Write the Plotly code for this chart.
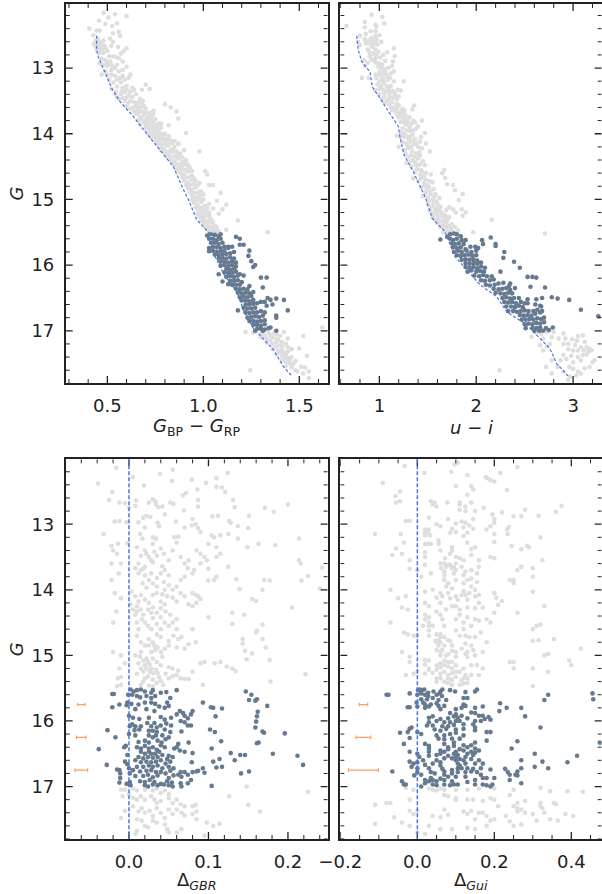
import math
import plotly.graph_objects as go

top_left_gray = [(.48,12.16),(.54,12.18),(.60,12.21),(.505,12.23),(.457,12.28),(.55,12.32),(.49,12.33),(.525,12.36),(.406,12.40),(.444,12.43),(.46,12.43),(.56,12.45),(.53,12.47),(.566,12.51),(.427,12.50),(.514,12.55),(.53,12.60),(.44,12.58),(.45,12.55),(.43,12.63),(.445,12.62),(.46,12.60),(.47,12.62),(.48,12.58),(.455,12.66),(.47,12.68),(.485,12.66),(.46,12.71),(.475,12.73),(.49,12.70),(.445,12.72),(.48,12.77),(.46,12.77),(.52,12.66),(.555,12.68),(.60,12.70),(.585,12.74),(.57,12.78),(.545,12.83),(.56,12.85),(.53,12.82),(.47,12.86),(.49,12.88),(.515,12.9),(.46,12.93),(.48,12.95),(.50,12.97),(.53,12.98),(.55,12.95),(.58,12.90),(.60,12.98),(.52,13.03),(.49,13.05),(.47,13.1),(.56,13.05),(.58,13.03),(.62,13.1),(.61,13.15),(.59,13.18),(.565,13.15),(.54,13.12),(.51,13.17),(.53,13.22),(.57,13.22),(.60,13.27),(.63,13.3),(.64,13.33),(.70,13.25),(.72,13.32),(.68,13.33),(.52,13.32),(.545,13.36),(.57,13.4),(.59,13.37),(.61,13.42),(.63,13.44),(.65,13.4),(.67,13.47),(.685,13.5),(.56,13.47),(.59,13.5),(.61,13.53),(.65,13.57),(.63,13.6),(.66,13.63),(.68,13.66),(.70,13.62),(.72,13.68),(.74,13.65),(.65,13.7),(.67,13.74),(.69,13.72),(.71,13.76),(.73,13.74),(.75,13.78),(.66,13.8),(.69,13.82),(.71,13.85),(.73,13.83),(.75,13.86),(.77,13.84),(.70,13.92),(.72,13.95),(.74,13.93),(.76,13.95),(.78,13.91),(.72,14.02),(.74,14.0),(.76,14.04),(.78,14.02),(.80,14.0),(.82,14.04),(.75,14.1),(.77,14.12),(.79,14.09),(.81,14.13),(.83,14.1),(.77,14.2),(.79,14.22),(.81,14.18),(.83,14.24),(.85,14.2),(.87,14.16),(.80,14.3),(.82,14.32),(.84,14.28),(.86,14.33),(.88,14.3),(.83,14.4),(.85,14.42),(.87,14.38),(.89,14.43),(.91,14.4),(.85,14.48),(.87,14.52),(.89,14.5),(.91,14.47),(.93,14.52),(.88,14.6),(.90,14.62),(.92,14.58),(.94,14.64),(.90,14.72),(.92,14.74),(.94,14.7),(.96,14.72),(.98,14.75),(.92,14.83),(.94,14.85),(.96,14.82),(.98,14.88),(.94,14.94),(.96,14.97),(.98,14.95),(1.0,14.92),(.95,15.05),(.97,15.08),(.99,15.04),(1.01,15.1),(1.03,15.07),(.97,15.15),(.99,15.18),(1.01,15.16),(1.03,15.2),(1.05,15.14),(.98,15.26),(1.0,15.28),(1.02,15.25),(1.04,15.3),(1.0,15.36),(1.02,15.38),(1.04,15.35),(1.06,15.4),(1.02,15.45),(1.04,15.47),(1.06,15.46),(1.08,15.48),
(.68,13.54),(.74,13.7),(.80,13.55),(.83,13.6),(.86,13.66),(.78,13.85),(.82,13.87),(.87,13.77),(.91,13.99),(.85,14.11),(.87,14.15),(.90,14.25),(.98,14.27),(1.01,14.57),(1.02,14.62),(1.03,14.78),(1.05,14.78),(1.09,14.9),(1.07,15.02),(1.12,15.08),(1.10,15.15),(1.08,15.22),(1.12,15.46),(1.18,15.32),(1.335,15.5),(1.62,16.95),(1.52,17.08),(1.50,17.27),(1.54,17.38),(1.245,17.6),
(1.22,17.02),(1.26,17.03),(1.3,17.05),(1.34,17.03),(1.38,17.05),(1.42,17.02),(1.30,17.1),(1.33,17.12),(1.36,17.1),(1.39,17.14),(1.44,17.12),(1.33,17.18),(1.36,17.2),(1.38,17.18),(1.40,17.22),(1.43,17.2),(1.36,17.28),(1.39,17.3),(1.41,17.28),(1.44,17.32),(1.38,17.36),(1.41,17.38),(1.43,17.36),(1.46,17.4),(1.41,17.45),(1.43,17.47),(1.45,17.44),(1.48,17.46),(1.43,17.54),(1.46,17.56),(1.48,17.6),(1.51,17.55),(1.49,17.62),(1.53,17.56),(1.52,17.65),(1.55,17.62),(1.55,17.72),
(.55,13.45),(.58,13.46),(.6,13.45),(.62,13.5),(.64,13.52),(.66,13.53),(.6,13.58),(.62,13.62),(.64,13.6),(.67,13.6),(.69,13.58),(.64,13.66),(.66,13.68),(.7,13.68),(.72,13.72),(.68,13.78),(.7,13.8),(.72,13.79),(.74,13.8),(.67,13.86),(.7,13.88),(.72,13.9),(.74,13.88),(.76,13.9),(.71,13.98),(.73,14.0),(.75,13.98),(.77,13.98),(.79,14.0),(.73,14.06),(.75,14.05),(.77,14.07),(.79,14.06),(.81,14.08),(.76,14.15),(.78,14.16),(.8,14.15),(.82,14.17),(.84,14.14),(.78,14.25),(.8,14.26),(.82,14.28),(.84,14.25),(.86,14.27),(.81,14.35),(.83,14.36),(.85,14.35),(.87,14.34),(.89,14.36),(.84,14.45),(.86,14.46),(.88,14.46),(.9,14.45),(.92,14.47),(.86,14.55),(.88,14.56),(.9,14.55),(.92,14.54),(.94,14.57),(.89,14.66),(.91,14.67),(.93,14.66),(.95,14.68),(.91,14.78),(.93,14.78),(.95,14.77),(.97,14.79),(.93,14.89),(.95,14.9),(.97,14.9),(.99,14.88),(.94,15.0),(.96,15.02),(.98,15.0),(1.0,15.0),(.96,15.12),(.98,15.12),(1.0,15.12),(1.02,15.13),(.97,15.22),(.99,15.23),(1.01,15.22),(1.03,15.24),(.99,15.32),(1.01,15.33),(1.03,15.32),(1.05,15.34),(1.01,15.42),(1.03,15.42),(1.05,15.42),(1.07,15.43),(1.03,15.5),(1.05,15.5),(1.07,15.5),
(.44,12.67),(.45,12.69),(.465,12.65),(.475,12.7),(.5,12.74),(.51,12.82),(.5,12.92),(.52,12.95),(.54,13.0),(.5,13.1),(.52,13.1),(.55,13.18),(.58,13.12),(.55,13.28),(.58,13.3),(.6,13.33),(.62,13.36),(.54,13.4),(.575,13.35),
(1.31,17.02),(1.32,17.07),(1.35,17.07),(1.37,17.03),(1.4,17.08),(1.35,17.15),(1.38,17.12),(1.41,17.17),(1.38,17.24),(1.41,17.24),(1.44,17.25),(1.4,17.33),(1.42,17.33),(1.46,17.28),(1.42,17.42),(1.44,17.41),(1.47,17.5),(1.45,17.5)]

top_left_dark = [(1.02,15.55),(1.04,15.53),(1.06,15.54),(1.08,15.56),(1.09,15.53),(1.03,15.6),(1.05,15.6),(1.07,15.62),(1.09,15.6),(1.04,15.66),(1.06,15.66),(1.08,15.68),(1.1,15.66),(1.03,15.74),(1.05,15.72),(1.07,15.73),(1.09,15.74),(1.11,15.72),(1.03,15.79),(1.05,15.78),(1.07,15.8),(1.09,15.79),(1.11,15.78),(1.13,15.74),(1.06,15.84),(1.08,15.85),(1.1,15.84),(1.12,15.83),(1.14,15.82),(1.16,15.8),(1.08,15.9),(1.1,15.89),(1.12,15.9),(1.14,15.88),(1.16,15.9),(1.09,15.95),(1.11,15.95),(1.13,15.96),(1.15,15.94),(1.17,15.96),(1.09,16.01),(1.11,16.0),(1.13,16.02),(1.15,16.0),(1.17,16.02),(1.12,16.06),(1.14,16.07),(1.16,16.06),(1.08,16.14),(1.11,16.11),(1.13,16.12),(1.15,16.12),(1.17,16.1),(1.12,16.18),(1.14,16.17),(1.16,16.18),(1.18,16.16),(1.14,16.24),(1.16,16.24),(1.18,16.23),(1.2,16.26),(1.1,16.25),(1.13,16.29),(1.15,16.3),(1.17,16.3),(1.19,16.3),(1.17,16.36),(1.19,16.37),(1.21,16.36),(1.23,16.37),(1.18,16.42),(1.2,16.43),(1.22,16.42),(1.24,16.43),(1.26,16.41),(1.19,16.49),(1.21,16.48),(1.23,16.49),(1.25,16.47),(1.2,16.54),(1.22,16.54),(1.24,16.55),(1.26,16.53),(1.22,16.6),(1.24,16.6),(1.26,16.59),(1.28,16.58),(1.3,16.56),(1.18,16.69),(1.21,16.65),(1.23,16.66),(1.25,16.66),(1.27,16.65),(1.22,16.72),(1.24,16.73),(1.26,16.72),(1.28,16.72),(1.3,16.7),(1.32,16.72),(1.23,16.8),(1.25,16.79),(1.27,16.78),(1.29,16.79),(1.31,16.77),(1.24,16.85),(1.26,16.85),(1.28,16.86),(1.3,16.85),(1.32,16.84),(1.26,16.91),(1.28,16.91),(1.3,16.92),(1.32,16.9),(1.28,16.97),(1.3,16.97),(1.32,16.98),(1.34,16.96),(1.31,17.0),(1.27,17.0),
(1.17,15.57),(1.19,15.6),(1.19,15.69),(1.21,15.69),(1.24,15.78),(1.235,15.86),(1.25,15.94),(1.27,16.0),(1.26,16.03),(1.3,16.19),(1.33,16.19),(1.31,16.34),(1.19,16.14),(1.21,16.16),(1.24,16.32),(1.335,16.5),(1.35,16.53),(1.38,16.51),(1.42,16.53),(1.44,16.69),(1.33,16.62),(1.32,16.56),(1.36,16.6),(1.38,16.77),(1.38,16.8),(1.38,17.0),(1.13,15.72),(1.15,15.72),(1.35,16.95)]

top_right_gray = [(.92,12.19),(1.03,12.22),(.85,12.3),(1.05,12.32),(.97,12.37),(.96,12.34),(.66,12.36),(.85,12.38),(.91,12.44),(.96,12.44),(.8,12.51),(.86,12.48),(.96,12.51),(1.0,12.5),(.85,12.56),(.92,12.54),(.94,12.58),(.97,12.57),(.78,12.6),(.8,12.65),(.86,12.62),(.9,12.62),(.94,12.64),(1.02,12.6),(1.15,12.7),(.93,12.68),(.96,12.72),(.99,12.75),(1.08,12.76),(1.16,12.82),(.9,12.82),(.96,12.85),(1.01,12.84),(1.04,12.8),(.84,12.88),(.88,12.92),(.97,12.92),(1.06,12.89),(1.14,12.9),(1.13,12.97),(.85,12.97),(.99,12.98),(1.02,13.0),(1.05,13.02),(1.09,13.0),(1.0,13.06),(1.07,13.1),(.96,13.1),(1.12,13.08),(1.15,13.05),(.82,13.15),(.89,13.15),(.97,13.15),(1.03,13.14),(1.09,13.18),(1.15,13.2),(1.25,13.2),(.98,13.25),(1.02,13.27),(1.05,13.23),(1.08,13.28),(1.12,13.27),(1.19,13.33),(1.22,13.34),(1.1,13.3),(1.14,13.35),(.96,13.34),(1.0,13.4),(1.05,13.38),(1.1,13.41),(1.14,13.45),(1.2,13.43),(1.03,13.47),(1.08,13.5),(1.13,13.52),(1.18,13.48),(1.1,13.55),(1.15,13.6),(1.2,13.57),(1.24,13.62),(1.36,13.57),(1.34,13.63),(1.17,13.67),(1.21,13.7),(1.24,13.68),(1.27,13.72),(1.2,13.75),(1.25,13.77),(1.29,13.8),(1.33,13.85),(1.37,13.83),(1.44,13.8),(1.4,13.89),(1.47,13.99),(1.43,14.05),(1.27,13.86),(1.31,13.9),(1.35,13.95),(1.18,14.03),(1.22,14.05),(1.25,14.0),(1.28,14.03),(1.31,14.05),(1.34,14.02),(1.37,14.08),(1.24,14.13),(1.28,14.15),(1.32,14.12),(1.36,14.16),(1.4,14.2),(1.44,14.22),(1.48,14.15),(1.52,14.27),(1.2,14.2),(1.26,14.25),(1.3,14.22),(1.34,14.27),(1.38,14.3),(1.42,14.33),(1.3,14.35),(1.35,14.4),(1.4,14.38),(1.45,14.42),(1.28,14.45),(1.33,14.5),(1.38,14.48),(1.43,14.55),(1.37,14.58),(1.42,14.62),(1.46,14.65),(1.53,14.62),(1.67,14.55),(1.65,14.6),(1.68,14.67),(1.35,14.68),(1.4,14.72),(1.46,14.75),(1.5,14.78),(1.55,14.74),(1.7,14.77),(1.76,14.78),(1.43,14.82),(1.49,14.85),(1.53,14.88),(1.58,14.92),(1.78,14.86),(1.45,14.95),(1.5,14.97),(1.55,15.0),(1.59,15.03),(1.62,14.98),(1.86,14.92),(1.82,15.01),(1.5,15.07),(1.55,15.1),(1.59,15.13),(1.63,15.11),(1.72,15.12),(1.76,15.15),(1.52,15.17),(1.57,15.2),(1.61,15.18),(1.65,15.22),(1.69,15.16),(1.85,15.15),(1.89,15.2),(1.86,15.25),(1.55,15.27),(1.6,15.29),(1.64,15.26),(1.68,15.3),(1.72,15.27),(1.79,15.2),(1.6,15.36),(1.65,15.39),(1.69,15.36),(1.72,15.4),(1.75,15.38),(2.16,15.31),(1.97,15.5),(2.71,15.52),(1.67,15.43),(1.7,15.47),(1.74,15.45),(1.78,15.42),(1.81,15.47),
(2.62,17.03),(2.67,17.05),(2.73,17.02),(2.8,17.02),(2.9,17.04),(3.05,17.08),(3.1,17.07),(2.57,17.09),(2.69,17.12),(2.78,17.1),(2.85,17.12),(2.92,17.12),(2.99,17.13),(3.04,17.15),(3.12,17.17),(2.66,17.22),(2.73,17.24),(2.76,17.2),(2.9,17.2),(2.95,17.2),(3.02,17.22),(3.08,17.25),(3.14,17.25),(3.17,17.28),(2.69,17.3),(2.95,17.28),(3.0,17.3),(3.05,17.3),(3.11,17.3),(3.16,17.32),(3.19,17.3),(2.9,17.37),(2.98,17.38),(3.05,17.4),(3.1,17.37),(3.14,17.36),(2.78,17.45),(2.87,17.45),(2.93,17.43),(3.0,17.48),(3.08,17.45),(3.22,17.45),(2.72,17.55),(2.84,17.55),(2.96,17.55),(3.0,17.58),(3.12,17.57),(3.17,17.55),(3.2,17.48),(2.24,17.6),(2.78,17.65),(2.9,17.62),(3.05,17.62),(3.08,17.65),(2.97,17.7),(3.03,17.68),(2.95,17.75),
(.86,12.58),(.88,12.62),(.9,12.57),(.92,12.66),(.95,12.6),(.98,12.64),(.88,12.72),(.9,12.76),(.94,12.78),(.97,12.8),(.92,12.87),(.95,12.9),(1.0,12.93),(1.03,12.95),(1.0,13.1),(1.03,13.08),(1.06,13.06),(1.0,13.2),(1.04,13.18),(1.08,13.13),(1.11,13.15),(1.0,13.32),(1.04,13.33),(1.08,13.35),(1.12,13.36),(1.16,13.38),(1.05,13.44),(1.1,13.47),(1.16,13.42),(1.05,13.53),(1.12,13.6),(1.18,13.55),(1.13,13.64),(1.18,13.62),(1.22,13.66),(1.26,13.65),(1.19,13.72),(1.23,13.74),(1.27,13.78),(1.31,13.75),(1.22,13.82),(1.26,13.83),(1.3,13.85),(1.35,13.8),(1.24,13.92),(1.28,13.95),(1.32,13.96),(1.38,13.92),(1.22,13.98),(1.26,14.05),(1.3,14.08),(1.35,14.1),(1.29,14.18),(1.33,14.2),(1.38,14.15),(1.42,14.12),(1.27,14.3),(1.33,14.33),(1.37,14.35),(1.41,14.28),(1.32,14.42),(1.37,14.44),(1.42,14.47),(1.47,14.48),(1.39,14.54),(1.44,14.58),(1.48,14.6),(1.43,14.68),(1.48,14.7),(1.52,14.72),(1.46,14.8),(1.51,14.82),(1.56,14.84),(1.48,14.9),(1.53,14.92),(1.57,14.96),(1.51,15.02),(1.56,15.05),(1.6,15.07),(1.53,15.13),(1.58,15.15),(1.62,15.15),(1.55,15.22),(1.6,15.24),(1.64,15.2),(1.68,15.24),(1.58,15.32),(1.62,15.33),(1.66,15.33),(1.7,15.32),(1.63,15.42),(1.68,15.42),(1.72,15.44),(1.66,15.5),(1.72,15.5),(1.76,15.5)]

top_right_dark = [(1.73,15.53),(1.77,15.52),(1.8,15.53),(1.84,15.56),(1.63,15.61),(1.7,15.57),(1.73,15.6),(1.76,15.62),(1.8,15.6),(1.85,15.62),(1.89,15.62),(1.75,15.67),(1.78,15.68),(1.82,15.67),(1.87,15.68),(1.76,15.73),(1.8,15.74),(1.84,15.73),(1.89,15.76),(1.94,15.72),(1.99,15.72),(1.77,15.8),(1.81,15.78),(1.85,15.8),(1.9,15.78),(1.95,15.8),(2.0,15.78),(2.02,15.74),(1.8,15.85),(1.84,15.86),(1.88,15.85),(1.92,15.84),(1.96,15.86),(2.0,15.85),(1.85,15.92),(1.89,15.91),(1.93,15.92),(1.97,15.91),(2.01,15.93),(1.89,15.97),(1.93,15.98),(1.97,15.97),(2.01,15.98),(2.05,15.96),(1.89,16.03),(1.93,16.04),(1.97,16.03),(2.01,16.05),(2.05,16.02),(2.09,16.04),(1.91,16.1),(1.95,16.08),(2.0,16.1),(2.04,16.09),(2.08,16.1),(1.98,16.16),(2.03,16.17),(2.07,16.15),(2.11,16.17),(2.16,16.17),(2.05,16.23),(2.09,16.24),(2.14,16.23),(2.18,16.22),(2.1,16.3),(2.14,16.31),(2.19,16.3),(2.23,16.28),(2.28,16.27),(2.35,16.28),(2.18,16.36),(2.23,16.37),(2.27,16.36),(2.31,16.35),(2.35,16.38),(2.4,16.35),(2.2,16.42),(2.25,16.43),(2.29,16.44),(2.33,16.42),(2.37,16.43),(2.27,16.5),(2.31,16.49),(2.35,16.51),(2.39,16.5),(2.44,16.5),(2.29,16.56),(2.33,16.57),(2.37,16.56),(2.41,16.58),(2.46,16.56),(2.5,16.58),(2.31,16.63),(2.36,16.63),(2.4,16.64),(2.44,16.62),(2.48,16.64),(2.33,16.7),(2.38,16.7),(2.42,16.71),(2.46,16.7),(2.5,16.69),(2.54,16.7),(2.59,16.7),(2.63,16.68),(2.45,16.76),(2.49,16.77),(2.53,16.76),(2.57,16.77),(2.61,16.74),(2.66,16.72),(2.47,16.83),(2.51,16.83),(2.55,16.82),(2.59,16.83),(2.63,16.81),(2.67,16.82),(2.7,16.8),(2.5,16.9),(2.54,16.89),(2.58,16.9),(2.62,16.88),(2.66,16.89),(2.7,16.87),(2.51,16.96),(2.58,16.96),(2.62,16.96),(2.66,16.95),(2.72,16.96),(2.6,17.0),(2.65,17.0),(2.69,17.0),(2.75,16.99),(2.79,16.95),
(2.06,15.62),(2.07,15.68),(2.15,15.58),(2.2,15.68),(2.2,15.71),(2.29,15.8),(2.28,15.89),(2.39,15.95),(2.45,16.04),(2.53,16.18),(2.58,16.18),(2.62,16.19),(2.56,16.33),(2.71,16.34),(2.25,16.1),(2.34,16.32),(2.53,16.52),(2.53,16.58),(2.62,16.52),(2.68,16.5),(2.66,16.62),(2.61,16.6),(2.78,16.49),(2.84,16.51),(2.96,16.53),(3.08,16.68),(3.26,16.78),(2.67,16.63),(2.68,16.7)]

bot_left_gray = [(-.016,12.14),(-.039,12.38),(-.021,12.51),(-.025,12.63),(-.032,13.15),(.005,12.28),(.019,12.41),(.039,12.23),(.055,12.17),(.054,12.34),(.079,12.32),(.097,12.37),(.11,12.3),(.124,12.22),(.11,12.43),(.117,12.44),(.121,12.51),(.086,12.47),(.072,12.52),(.068,12.56),(.087,12.63),(.087,12.73),(.131,12.63),(.133,12.74),(.171,12.75),(.182,12.81),(.2,12.7),(.151,12.87),(-.012,12.67),(-.005,12.68),(.0,12.75),(.009,12.64),(.008,12.72),(.025,12.67),(.03,12.62),(.033,12.65),(.034,12.7),(.037,12.74),(.042,12.73),(.052,12.67),(.056,12.69),(.069,12.79),(.045,12.85),(.018,12.9),(.022,12.87),(.027,12.89),(.012,12.97),(.02,13.05),(.036,12.98),(.038,13.03),(.059,12.96),(.08,12.92),(.079,13.02),(.084,13.0),(.087,13.06),(.09,13.12),(.07,13.05),(.105,12.88),(.112,12.87),(.126,12.95),(.137,13.03),(.128,12.98),(.15,13.06),(.115,13.17),(.125,13.15),(.107,13.2),(.104,13.17),(.057,13.2),(.062,13.19),(.014,13.15),(.017,13.22),(.03,13.2),(.034,13.22),(-.018,12.96),(-.012,12.95),(-.003,12.97),(-.022,13.33),(-.014,13.3),(-.002,13.29),(.137,13.22),(.149,13.35),(.163,13.3),(.184,13.32),(.214,13.22),(.214,13.55),(.216,13.6),(.217,13.86),(.225,13.79),(.243,13.66),(.24,13.98),(.17,13.85),(.168,14.0),(.177,13.86),(.135,13.84),(.139,13.99),(.125,13.65),(.107,13.85),(.1,13.86),(.11,13.8),(.082,13.7),(.074,13.67),(.08,13.75),(.07,13.8),(.065,13.85),(.05,13.78),(.042,13.64),(.045,13.7),(.02,13.4),(.022,13.45),(.025,13.5),(.028,13.55),(.04,13.37),(.044,13.45),(.055,13.4),(.05,13.55),(.032,13.42),(.085,13.4),(.09,13.45),(.095,13.5),(.098,13.55),(.1,13.3),(.11,13.35),(.11,13.5),(.115,13.45),(.012,13.6),(.008,13.67),(.015,13.7),(.02,13.65),(.012,13.75),(.02,13.78),(.025,13.85),(.017,13.9),(.022,13.97),(.028,13.75),(.035,13.82),(.044,13.88),(.05,13.93),(.055,14.0),(-.013,13.75),(-.022,13.6),(-.02,13.4),(-.015,13.45),(-.01,13.6),(-.022,13.85),(-.018,14.05),(-.01,14.13),(.003,14.03),(.008,14.1),(.012,14.18),(.02,14.15),(.03,14.08),(.035,14.05),(.042,14.07),(.048,14.1),(.055,14.12),(.06,14.18),(.08,14.05),(.084,14.08),(.087,14.1),(.09,14.14),(.085,14.2),(.08,14.25),(.075,14.22),(-.016,14.33),(-.02,14.5),(.002,14.22),(.005,14.3),(.01,14.33),(.015,14.3),(.018,14.38),(.024,14.3),(.028,14.35),(.03,14.43),(.016,14.45),(.02,14.5),(.024,14.55),(.028,14.6),(.04,14.28),(.046,14.33),(.052,14.38),(.045,14.5),(.05,14.55),(.055,14.5),(.06,14.45),(.06,14.6),(.08,14.6),(.056,14.7),(.05,14.78),(.062,14.75),(.066,14.72),(.075,14.83),(.084,14.8),(.1,14.42),(.13,14.35),(.145,14.38),(.13,14.52),(.143,14.75),(.143,14.82),(.146,14.93),(.148,15.06),(.155,14.97),(.16,14.65),(.161,14.62),(.168,14.53),(.168,14.75),(.172,14.88),(.177,15.07),(.178,15.4),(.205,14.27),(.16,14.17),(.155,14.14),(.222,15.29),(.095,15.1),(.108,15.12),(.123,15.17),(.13,15.2),(.134,15.24),(.09,15.12),(.093,15.45),(.115,15.1),
(.02,14.85),(.025,14.85),(.03,14.8),(.032,14.85),(.034,14.87),(.033,14.92),(.036,14.88),(.028,14.95),(.04,14.95),(.015,14.95),(.008,15.0),(.014,15.02),(.018,15.08),(.022,15.05),(.024,15.1),(.026,15.14),(.02,15.15),(.015,15.2),(.018,15.25),(.022,15.2),(.026,15.25),(.028,15.2),(.03,15.27),(.034,15.22),(.036,15.27),(.038,15.33),(.024,15.32),(.02,15.35),(.018,15.4),(.03,15.37),(.04,15.39),(.043,15.45),(.05,15.18),(.055,15.2),(.062,15.23),(.05,15.35),(.055,15.32),(.06,15.3),(.065,15.35),(.07,15.36),(.075,15.36),(.08,15.25),(-.01,15.33),(-.014,15.35),(-.01,15.45),(-.015,15.47),(-.02,14.95),(-.01,15.0),(-.005,15.12),(-.012,15.2),
(-.01,17.05),(-.005,17.05),(.005,17.03),(.01,17.06),(.02,17.05),(.03,17.06),(.035,17.03),(.04,17.1),(.045,17.06),(.05,17.12),(-.008,17.15),(.0,17.12),(.005,17.17),(.01,17.2),(.015,17.15),(.02,17.2),(.028,17.15),(.032,17.2),(.035,17.25),(.04,17.22),(.05,17.18),(.055,17.25),(.06,17.2),(.065,17.27),(.07,17.3),(.08,17.3),(.084,17.28),(.005,17.3),(.012,17.38),(.016,17.33),(.02,17.4),(.026,17.37),(.03,17.45),(.035,17.33),(.04,17.4),(.045,17.48),(.05,17.35),(.055,17.42),(.06,17.35),(.066,17.4),(.07,17.44),(.08,17.42),(.085,17.38),(-.005,17.37),(-.01,17.48),(.01,17.5),(.016,17.52),(.02,17.6),(.024,17.62),(.03,17.52),(.035,17.55),(.045,17.58),(.048,17.65),(.05,17.7),(.06,17.7),(.066,17.65),(.085,17.5),(.098,17.55),(.106,17.6),(.114,17.57),(.095,17.75),(.01,17.68),(.008,17.72),(.148,17.0),(.15,17.28),(.165,17.38),(.225,17.08),(.126,17.15),
(.018,13.68),(.03,13.58),(.035,13.48),(.06,13.28),(.065,13.5),(.07,13.6),(.075,13.55),(.09,13.6),(.1,13.68),(.01,13.35),(.03,13.3),(.015,13.48),(.03,13.9),(.035,13.95),(.04,13.75),(.045,14.0),(.06,13.95),(.065,14.05),(.07,14.1),(.04,14.18),(.045,14.22),(.015,14.08),(.025,14.2),(.03,14.27),(.035,14.35),(.04,14.42),(.01,14.25),(.008,14.38),(.01,14.5),(.012,14.6),(.035,14.52),(.04,14.6),(.035,14.68),(.04,14.72),(.025,14.75),(.01,14.7),(.015,14.8),(.045,14.9),(.05,14.85),(.06,14.88),(.07,14.9),(.042,15.02),(.03,15.05),(.035,15.1),(.04,15.15),(.012,15.12),(.01,15.28),(.046,15.28),(.015,15.45),(.03,15.47),(.035,15.42),(.025,15.46)]

bot_left_dark = [(.147,15.55),(.154,15.6),(.151,15.68),(.161,15.67),(.159,15.69),(.174,15.77),(.162,15.86),(.161,15.93),(.16,16.01),(.159,16.1),(.168,16.16),(.17,16.18),(.196,16.19),(.163,16.33),(.161,16.34),(.181,16.5),(.212,16.53),(.219,16.67),(.146,16.52),(.14,16.52),(.128,16.49),(.133,16.6),(.141,16.8),(.151,16.77),(.116,16.31),(.108,16.17),(.102,16.13),(.104,16.42),(.117,15.81),(.106,15.8),(.103,15.79),(.093,15.72),(.109,15.93),(.106,16.62),(.114,16.58),(.11,16.71),(.117,16.7),(.104,16.99),(.093,16.72),(.095,16.79),(.087,16.76),
(-.021,15.59),(-.019,15.59),(-.012,15.75),(-.021,15.79),(-.027,16.14),(-.017,16.25),(-.038,16.43),(-.028,16.67),(-.015,16.74),(-.012,16.75),(-.011,16.8),(-.011,16.87),(-.012,16.94),(-.001,15.6),(-.002,15.72),(-.003,15.76),(.0,15.92),(.001,16.08),(.0,16.2),(-.004,16.38),(-.006,16.4),(-.002,16.52),(-.005,16.62),(-.002,16.66),(.0,16.72),(.001,16.8),(.001,16.93),(-.003,16.96),(.002,16.98),
(.002,15.52),(.006,15.55),(.01,15.53),(.015,15.52),(.02,15.55),(.028,15.57),(.03,15.53),(.04,15.57),(.047,15.56),(.06,15.53),(.004,15.6),(.01,15.62),(.014,15.64),(.022,15.62),(.028,15.65),(.033,15.62),(.052,15.65),(.048,15.72),(.003,15.74),(.012,15.75),(.02,15.72),(.028,15.72),(.033,15.74),(.038,15.78),(.045,15.8),(.05,15.77),(.008,15.82),(.022,15.82),(.032,15.85),(.064,15.85),(.068,15.88),(.08,15.85),(.06,15.9),(.07,15.92),(.074,15.96),(.078,15.9),(.005,15.95),(.013,15.97),(.025,15.95),(.04,15.94),(.045,15.98),(.053,15.95),(.065,16.0),(.07,16.02),(.074,16.07),(.078,16.07),(.004,16.05),(.008,16.08),(.015,16.08),(.023,16.03),(.028,16.08),(.032,16.03),(.035,16.1),(.04,16.07),(.047,16.04),(.053,16.07),(.007,16.14),(.013,16.13),(.025,16.15),(.03,16.15),(.035,16.17),(.045,16.13),(.052,16.17),(.066,16.16),(.008,16.22),(.025,16.22),(.03,16.25),(.034,16.22),(.042,16.22),(.05,16.25),(.012,16.32),(.02,16.3),(.025,16.33),(.036,16.3),(.041,16.33),(.046,16.28),(.062,16.35),(.075,16.33),(.01,16.4),(.015,16.42),(.02,16.38),(.025,16.42),(.03,16.4),(.035,16.44),(.04,16.37),(.045,16.4),(.057,16.42),(.06,16.4),(.064,16.45),(.07,16.47),(.015,16.47),(.02,16.5),(.025,16.47),(.028,16.5),(.033,16.5),(.038,16.47),(.042,16.52),(.05,16.53),(.08,16.49),(.012,16.55),(.018,16.57),(.024,16.55),(.03,16.56),(.036,16.55),(.04,16.6),(.048,16.58),(.055,16.55),(.008,16.6),(.015,16.63),(.022,16.62),(.028,16.63),(.034,16.62),(.046,16.65),(.052,16.62),(.079,16.63),(.01,16.7),(.018,16.7),(.025,16.68),(.03,16.7),(.036,16.68),(.042,16.72),(.05,16.7),(.056,16.72),(.005,16.75),(.014,16.77),(.022,16.76),(.028,16.75),(.034,16.78),(.04,16.78),(.046,16.8),(.052,16.76),(.065,16.78),(.07,16.78),(.074,16.82),(.08,16.78),(.085,16.77),(.008,16.84),(.018,16.84),(.024,16.82),(.03,16.86),(.036,16.83),(.05,16.87),(.056,16.83),(.062,16.82),(.066,16.85),(.078,16.9),(.014,16.92),(.02,16.93),(.026,16.9),(.032,16.93),(.04,16.96),(.048,16.92),(.054,16.94),(.065,16.95),(.074,16.95),(.02,16.98),(.024,17.0),(.03,16.97),(.036,16.98),(.044,16.97),(.05,16.98),(.055,17.0),(.066,17.0)]

bot_right_gray = [(-.033,12.11),(.105,12.06),(.097,12.09),(.26,12.13),(.018,12.22),(.088,12.2),(.13,12.25),(.178,12.28),(.182,12.3),(.216,12.22),(.19,12.33),(.2,12.35),(-.09,12.37),(.1,12.42),(.14,12.42),(.145,12.47),(.233,12.48),(.13,12.55),(-.045,12.5),(-.057,12.57),(-.045,12.65),(-.055,12.67),(.035,12.65),(.04,12.7),(.045,12.67),(.05,12.73),(.078,12.67),(.11,12.67),(.11,12.7),(.125,12.73),(.14,12.67),(.172,12.75),(.11,12.78),(.125,12.8),(.15,12.8),(.195,12.85),(.22,12.82),(.28,12.78),(.36,12.81),(.375,12.72),(.315,12.87),(.25,12.88),(.03,12.9),(.08,12.92),(.115,12.96),(.145,12.92),(.2,12.92),(.19,13.03),(.2,12.98),(.238,13.04),(.27,12.88),(-.03,12.95),(-.02,12.95),(.05,13.0),(.06,13.03),(.09,13.07),(.12,13.05),(.125,12.98),(.135,13.02),(.1,12.99),(.145,13.07),(.18,13.08),(.233,13.08),(.02,13.08),(.02,13.13),(.026,13.13),(.03,13.08),(.033,13.17),(.02,13.17),(-.11,13.15),(-.043,13.15),(.085,13.13),(.1,13.12),(.12,13.18),(.13,13.13),(.2,13.15),(.235,13.15),(.32,13.2),(-.055,13.37),(-.035,13.28),(-.04,13.45),(-.065,13.47),(.02,13.3),(.03,13.3),(.035,13.3),(.055,13.25),(.055,13.3),(.09,13.35),(.09,13.4),(.085,13.45),(.13,13.28),(.14,13.38),(.15,13.35),(.2,13.27),(.245,13.33),(.27,13.38),(.285,13.33),(.29,13.35),(-.02,13.55),(.02,13.43),(.02,13.5),(.06,13.4),(.072,13.52),(.1,13.5),(.11,13.52),(.12,13.55),(.14,13.47),(.16,13.55),(.19,13.5),(.2,13.52),(.325,13.55),(.06,13.6),(.062,13.67),(.085,13.62),(.09,13.67),(.07,13.72),(.095,13.75),(.115,13.65),(.125,13.72),(.12,13.78),(.14,13.7),(.16,13.65),(.155,13.75),(.26,13.7),(.27,13.65),(.3,13.67),(.3,13.8),(-.02,13.68),(.0,13.7),(.01,13.8),(.02,13.62),(.035,13.75),(.07,13.85),(.08,13.9),(.09,13.98),(.1,13.85),(.24,13.85),(.25,13.85),(.25,13.9),(.155,13.88),(.15,14.0),(.14,13.95),(.135,14.05),(.125,14.08),(-.07,14.0),(-.05,14.13),(-.03,14.1),(.02,14.03),(.04,14.0),(.05,14.12),(.08,14.05),(.085,14.13),(.1,14.1),(.115,14.08),(.105,14.15),(.13,14.15),(.15,14.1),(.2,14.05),(.205,14.12),(.22,14.17),(.21,14.23),(.3,14.03),(.33,14.25),(-.04,14.27),(-.025,14.3),(.02,14.2),(.03,14.25),(.06,14.2),(.05,14.33),(.06,14.38),(.075,14.3),(.09,14.25),(.11,14.3),(.13,14.27),(.15,14.28),(.17,14.27),(.26,14.35),(.2,14.35),(.02,14.45),(.03,14.5),(.03,14.55),(.015,14.55),(.065,14.45),(.1,14.45),(.12,14.5),(.14,14.55),(.16,14.47),(.18,14.45),(.19,14.5),(.31,14.55),(.32,14.53),(.3,14.6),(-.07,14.5),(-.035,14.65),(-.025,14.68),(-.01,14.7),(.0,14.7),(.03,14.7),(.06,14.68),(.07,14.72),(.08,14.77),(.11,14.7),(.12,14.6),(.125,14.7),(.135,14.72),(.165,14.65),(.18,14.8),(.3,14.78),(.315,14.77),(.355,14.75),(.047,14.78),(.05,14.8),(.055,14.77),(.06,14.8),(.07,14.85),(.085,14.78),(.09,14.85),(.125,14.82),(.14,14.85),(.145,14.92),(.425,14.9),(.34,14.98),(.05,14.92),(.06,14.95),(.09,14.93),(.1,14.95),(.13,14.95),(-.04,14.95),(-.02,15.02),(.02,15.07),(.03,15.08),(.06,15.0),(.075,15.0),(.1,15.02),(.13,15.02),(.15,15.0),(.17,14.95),(.24,15.1),(.25,15.1),(.33,15.0),(.395,15.08),(.4,15.15),(.02,15.14),(.03,15.2),(.05,15.15),(.06,15.12),(.08,15.17),(.09,15.2),(.1,15.15),(.12,15.2),(.155,15.15),(.17,15.2),(.25,15.2),(.3,15.2),(.34,15.25),(-.03,15.3),(-.01,15.28),(-.02,15.1),(.0,15.25),(.05,15.22),(.06,15.28),(.07,15.25),(.08,15.3),(.09,15.27),(.11,15.25),(.125,15.3),(.14,15.3),(.16,15.3),(.08,15.35),(.09,15.37),(.1,15.33),(.115,15.38),(.13,15.35),(.05,15.4),(.11,15.45),(.12,15.43),(.13,15.42),(.3,15.47),
(-.03,17.02),(-.01,17.05),(.03,17.03),(.04,17.05),(.05,17.06),(.06,17.03),(.07,17.05),(.1,17.05),(.13,17.05),(.16,17.03),(.2,17.03),(.25,17.05),(.32,17.02),(.345,17.07),(.39,17.07),(.43,17.08),(.07,17.13),(.08,17.15),(.1,17.18),(.19,17.18),(.2,17.2),(.24,17.13),(.26,17.25),(.28,17.22),(.32,17.25),(.36,17.27),(.355,17.25),(-.02,17.2),(-.07,17.25),(-.11,17.28),(-.08,17.25),(.1,17.2),(.13,17.2),(.145,17.2),(.17,17.22),(.21,17.3),(.25,17.3),(.26,17.33),(.27,17.35),(.26,17.38),(.28,17.4),(.32,17.3),(.325,17.33),(.0,17.37),(-.02,17.37),(-.01,17.42),(.07,17.35),(.12,17.38),(.13,17.42),(.14,17.37),(.16,17.4),(.18,17.45),(.17,17.4),(.23,17.45),(.3,17.42),(.33,17.4),(.385,17.42),(.405,17.45),(-.06,17.47),(.04,17.45),(.06,17.47),(.08,17.43),(.15,17.5),(.19,17.52),(.2,17.5),(.24,17.53),(.31,17.52),(.345,17.5),(.365,17.52),(-.11,17.57),(-.04,17.55),(-.02,17.6),(.03,17.6),(.06,17.65),(.09,17.65),(.13,17.63),(.15,17.65),(.18,17.6),(.25,17.6),(.27,17.58),(.02,17.72),(.0,17.7),
(.07,13.6),(.075,13.65),(.08,13.62),(.095,13.65),(.1,13.6),(.1,13.7),(.07,13.78),(.075,13.95),(.065,14.1),(.12,13.9),(.13,13.85),(.14,13.83),(.06,14.05),(.12,14.02),(.16,14.08),(.16,14.2),(.1,14.25),(.11,14.38),(.13,14.42),(.15,14.45),(.02,14.38),(.03,14.42),(.04,14.55),(.07,14.55),(.03,14.62),(.05,14.68),(.06,14.72),(.1,14.62),(.15,14.72),(.055,14.85),(.065,14.92),(.08,14.98),(.115,14.9),(.125,14.98),(.07,15.08),(.08,15.1),(.06,15.18),(.07,15.15),(.09,15.1),(.14,15.15),(.02,15.28),(.03,15.22),(.04,15.27),(.1,15.25),(.05,15.35),(.06,15.35),(.07,15.4),(.08,15.42),(.09,15.45),(.12,15.35)]

bot_right_dark = [(-.08,15.6),(-.075,15.6),(.455,15.58),(.34,15.6),(.33,15.68),(.457,15.67),(.002,15.53),(.006,15.52),(.012,15.53),(.018,15.52),(.028,15.57),(.042,15.55),(.06,15.55),(.065,15.52),(.085,15.53),(.098,15.55),(.125,15.56),(.15,15.55),(.155,15.52),(-.02,15.58),(.0,15.6),(.01,15.58),(.02,15.6),(.028,15.62),(.05,15.6),(.058,15.58),(.064,15.62),(.12,15.65),(.13,15.65),(.01,15.67),(.025,15.67),(.04,15.65),(.055,15.68),(.075,15.68),(-.002,15.72),(.015,15.72),(.02,15.75),(.035,15.75),(.05,15.73),(.055,15.77),(.07,15.77),(.12,15.75),(.125,15.77),(.1,15.82),(-.025,15.79),(-.02,15.79),(.0,15.78),(.02,15.8),(.03,15.78),(.06,15.82),(.115,15.8),(.15,15.8),(.17,15.78),(.215,15.73),(.213,15.85),(.232,15.8),(.27,15.8),(.28,15.93),(.085,15.88),(.1,15.9),(.14,15.87),(.15,15.88),(.16,15.92),(.17,15.92),(.185,15.94),(.03,15.95),(.04,15.93),(.06,15.97),(.08,15.96),(.095,15.93),(.105,15.95),(.115,15.92),(.13,15.96),(.03,16.02),(.05,16.0),(.07,16.02),(.085,16.02),(.1,16.0),(.11,16.0),(.15,16.0),(.165,16.0),(.175,15.97),(.19,15.98),(.025,16.07),(.04,16.07),(.065,16.08),(.08,16.08),(.095,16.06),(.12,16.05),(.145,16.05),(.15,16.1),(.15,16.14),(-.02,16.12),(-.015,16.1),(-.025,16.17),(.045,16.13),(.06,16.15),(.075,16.12),(.1,16.13),(.12,16.12),(.32,16.1),(.18,16.17),(.19,16.17),(-.045,16.18),(.0,16.17),(.01,16.2),(.05,16.22),(.07,16.22),(.085,16.2),(.1,16.18),(.12,16.22),(-.02,16.26),(.055,16.27),(.07,16.28),(.09,16.27),(.11,16.27),(.18,16.3),(.26,16.31),(.474,16.33),(-.035,16.35),(.02,16.35),(.03,16.38),(.07,16.35),(.095,16.33),(.12,16.37),(.14,16.37),(.15,16.33),(.245,16.42),(.03,16.42),(.08,16.4),(.095,16.38),(.11,16.43),(.13,16.4),(.15,16.42),(.16,16.45),(.03,16.47),(.06,16.45),(.07,16.47),(.08,16.43),(.1,16.47),(.12,16.45),(.14,16.47),(.15,16.48),(-.02,16.47),(.0,16.5),(.03,16.53),(.05,16.52),(.06,16.5),(.08,16.53),(.095,16.5),(.105,16.52),(.13,16.5),(.145,16.52),(.005,16.55),(.07,16.57),(.09,16.57),(.1,16.55),(.125,16.55),(.305,16.5),(.415,16.53),(.015,16.6),(.05,16.6),(.06,16.63),(.1,16.6),(.11,16.58),(.12,16.6),(.14,16.58),(.16,16.6),(.27,16.6),(.325,16.62),(.39,16.63),(-.02,16.62),(-.01,16.65),(.0,16.63),(.02,16.67),(.04,16.65),(.06,16.68),(.105,16.65),(.11,16.68),(.125,16.65),(.15,16.65),(.17,16.65),(.305,16.7),(.34,16.72),(.228,16.73),(.27,16.72),(.26,16.77),(-.015,16.7),(.0,16.72),(.03,16.72),(.065,16.73),(.07,16.77),(.09,16.75),(.105,16.72),(.115,16.72),(.13,16.72),(.145,16.73),(.165,16.72),(.19,16.74),(.235,16.78),(.24,16.82),(.255,16.82),(.26,16.83),(-.065,16.77),(.0,16.78),(.035,16.78),(.045,16.8),(.07,16.82),(.09,16.8),(.105,16.78),(.125,16.78),(.14,16.77),(.155,16.78),(.165,16.82),(.01,16.82),(-.008,16.83),(.035,16.87),(.06,16.88),(.08,16.85),(.1,16.85),(.125,16.85),(.17,16.87),(.18,16.87),(.2,16.87),(.24,16.9),(-.04,16.92),(-.035,16.97),(-.03,16.97),(.02,16.9),(.03,16.92),(.04,16.9),(.05,16.92),(.07,16.9),(.09,16.92),(.13,16.93),(.15,16.9),(.27,16.95),(.02,16.95),(.04,16.97),(.05,16.98),(.07,16.97),(.085,16.98),(.095,16.97),(.105,16.97),(.15,16.97),(.17,16.97),(.18,16.98),(.19,17.0),(.195,16.97),(.01,17.0)]

error_rows = [15.75, 16.25, 16.75]
gbr_err_centre = [-.06, -.06, -.06]
gbr_err_half = [.0046, .006, .008]
gui_err_centre = [-.14, -.14, -.14]
gui_err_half = [.011, .019, .039]

curve_left_x = [.444,.444,.453,.497,.523,.566,.636,.705,.775,.844,.893,.923,.966,1.027,1.053,1.105,1.175,1.21,1.26,1.366,1.418,1.462]
curve_left_g = [12.51,12.73,12.83,13.13,13.31,13.51,13.74,14.0,14.25,14.5,14.83,15.01,15.31,15.5,15.82,16.13,16.41,16.69,16.96,17.29,17.55,17.69]
curve_right_x = [.766,.783,.818,.904,.928,1.007,1.196,1.213,1.255,1.351,1.472,1.547,1.678,1.781,1.919,2.04,2.21,2.315,2.52,2.76,2.83,2.95]
curve_right_g = [12.51,12.73,12.9,13.06,13.29,13.46,13.89,14.05,14.32,14.58,14.96,15.29,15.49,15.87,16.1,16.3,16.48,16.71,16.91,17.27,17.5,17.69]

W, H = 602, 894
GRAY = "#dedede"
DARK = "#65798f"
BLUE = "#4a76e0"
ORANGE = "#f9a064"
TICK = 18
INK = "#222222"

panels = [
    ("x", "y", top_left_gray, top_left_dark, (65.7, 327.7, 4, 383), (0.283, 1.648), 0.5, 0.1,
     "<i>G</i><sub>BP</sub> − <i>G</i><sub>RP</sub>", (12.025, 17.795), 427),
    ("x2", "y2", top_right_gray, top_right_dark, (340.3, 601.7, 4, 383), (0.597, 3.295), 1, 0.2,
     "<i>u</i> − <i>i</i>", (12.025, 17.795), 427),
    ("x3", "y3", bot_left_gray, bot_left_dark, (65.7, 327.7, 459.3, 839), (-0.0796, 0.25), 0.1, 0.02,
     "Δ<sub><i>GBR</i></sub>", (12.01, 17.80), 881),
    ("x4", "y4", bot_right_gray, bot_right_dark, (340.3, 601.7, 459.3, 839), (-0.2002, 0.479), 0.2, 0.05,
     "Δ<sub><i>Gui</i></sub>", (12.01, 17.80), 881),
]


def tick_values(lo, hi, step, major):
    out = []
    for k in range(math.ceil(lo / step), math.floor(hi / step) + 1):
        v = k * step
        out.append((v, abs(v / major - round(v / major)) < 1e-6))
    return out


fig = go.Figure()
layout = {}
notes = []
for i, (xa, ya, gray, dark, box, xr, dt, mdt, title, yr, ty) in enumerate(panels):
    l, r, t, b = box
    gx, gy = zip(*gray)
    dx, dy = zip(*dark)
    fig.add_trace(go.Scatter(x=gx, y=gy, xaxis=xa, yaxis=ya, mode="markers",
                             marker=dict(color=GRAY, size=4.6), showlegend=False, hoverinfo="skip"))
    fig.add_trace(go.Scatter(x=dx, y=dy, xaxis=xa, yaxis=ya, mode="markers",
                             marker=dict(color=DARK, size=4.6), showlegend=False, hoverinfo="skip"))
    xkey = "xaxis" + xa[1:]
    ykey = "yaxis" + ya[1:]
    layout[xkey] = dict(domain=[l / W, r / W], range=list(xr), anchor=ya, dtick=dt, tick0=0,
                        ticks="", mirror=True, showline=True, linecolor=INK, linewidth=1.6,
                        showgrid=False, zeroline=False, automargin=False, ticklabelstandoff=6,
                        tickfont=dict(size=TICK, color=INK, family="DejaVu Sans"),
                        tickformat=".1f" if i != 1 else "d")
    layout[ykey] = dict(domain=[1 - b / H, 1 - t / H], range=[yr[1], yr[0]], anchor=xa, dtick=1, tick0=0,
                        ticks="", mirror=True, showline=True, linecolor=INK, linewidth=1.6,
                        showgrid=False, zeroline=False, automargin=False, ticklabelstandoff=6,
                        showticklabels=i % 2 == 0,
                        tickfont=dict(size=TICK, color=INK, family="DejaVu Sans"))
    px_x = (xr[1] - xr[0]) / (r - l)
    px_y = (yr[1] - yr[0]) / (b - t)
    for want_major, length, width in ((True, 7, 1.3), (False, 4, 1)):
        lx, ly = [], []
        for v, is_major in tick_values(xr[0], xr[1], mdt, dt):
            if is_major == want_major:
                n = length * px_y
                lx += [v, v, None, v, v, None]
                ly += [yr[1], yr[1] - n, None, yr[0], yr[0] + n, None]
        for v, is_major in tick_values(yr[0], yr[1], 0.2, 1):
            if is_major == want_major:
                n = length * px_x
                lx += [xr[0], xr[0] + n, None, xr[1], xr[1] - n, None]
                ly += [v, v, None, v, v, None]
        fig.add_trace(go.Scatter(x=lx, y=ly, xaxis=xa, yaxis=ya, mode="lines",
                                 line=dict(color=INK, width=width), showlegend=False, hoverinfo="skip"))
    notes.append(dict(text=title, x=(l + r) / 2 / W, y=1 - ty / H, xref="paper", yref="paper",
                      xanchor="center", yanchor="middle", showarrow=False,
                      font=dict(size=TICK, color=INK, family="DejaVu Sans")))
    if i % 2 == 0:
        notes.append(dict(text="<i>G</i>", x=16 / W, y=1 - (t + b) / 2 / H, xref="paper", yref="paper",
                          xanchor="center", yanchor="middle", showarrow=False, textangle=-90,
                          font=dict(size=TICK, color=INK, family="DejaVu Sans")))

line = dict(color=BLUE, width=1.2, dash="3px,2px")
fig.add_trace(go.Scatter(x=curve_left_x, y=curve_left_g, xaxis="x", yaxis="y", mode="lines", line=line, showlegend=False, hoverinfo="skip"))
fig.add_trace(go.Scatter(x=curve_right_x, y=curve_right_g, xaxis="x2", yaxis="y2", mode="lines", line=line, showlegend=False, hoverinfo="skip"))
for xa, ya, yr in (("x3", "y3", (12.01, 17.80)), ("x4", "y4", (12.01, 17.80))):
    fig.add_trace(go.Scatter(x=[0, 0], y=list(yr), xaxis=xa, yaxis=ya, mode="lines",
                             line=dict(color=BLUE, width=1.5, dash="4px,2px"), showlegend=False, hoverinfo="skip"))
for xa, ya, c, h in (("x3", "y3", gbr_err_centre, gbr_err_half), ("x4", "y4", gui_err_centre, gui_err_half)):
    fig.add_trace(go.Scatter(x=c, y=error_rows, xaxis=xa, yaxis=ya, mode="markers", marker=dict(size=1, color=ORANGE),
                             error_x=dict(type="data", array=h, color=ORANGE, thickness=1.2, width=1.8),
                             showlegend=False, hoverinfo="skip"))

fig.update_layout(width=W, height=H, autosize=False, margin=dict(l=0, r=0, t=0, b=0),
                  paper_bgcolor="white", plot_bgcolor="white", font=dict(family="DejaVu Sans"),
                  annotations=notes, **layout)
fig.write_html("out.html", config={"displayModeBar": False}, post_script="document.body.style.margin='0';")
